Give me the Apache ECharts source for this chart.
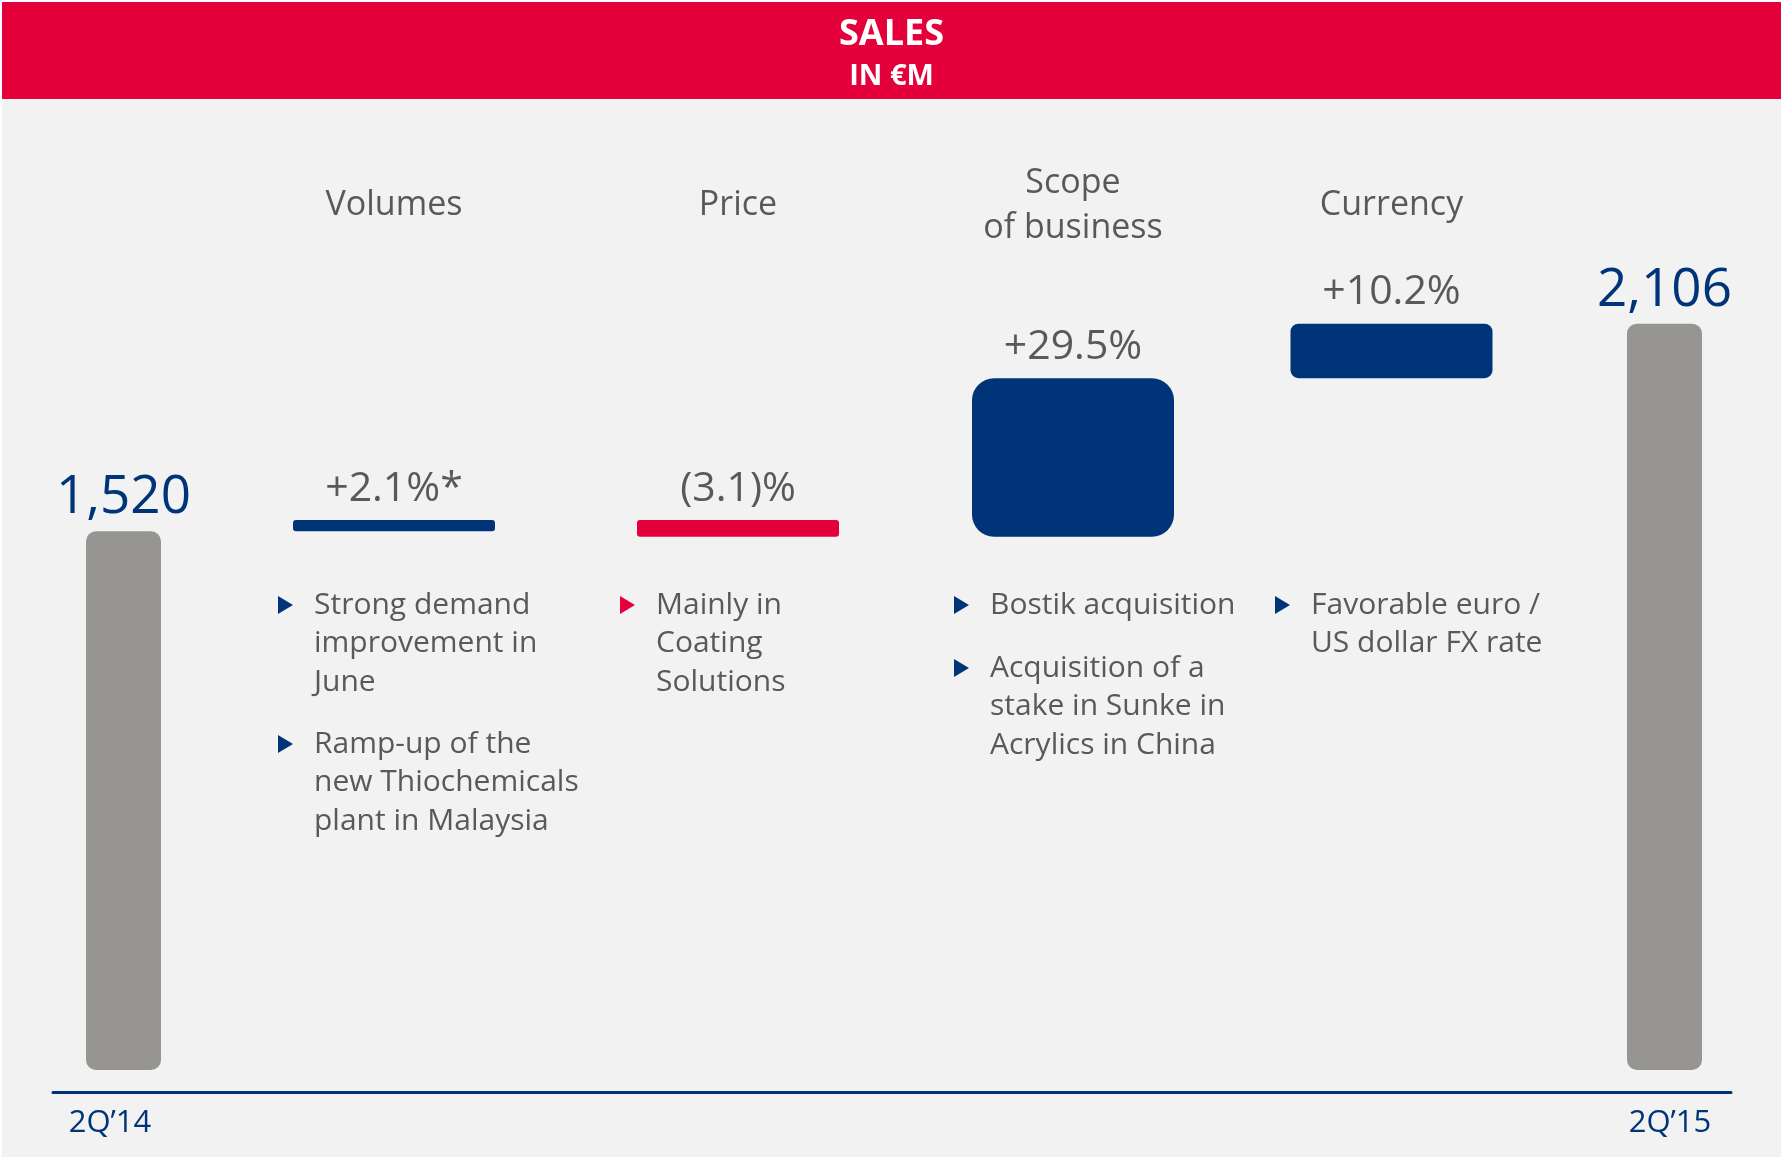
<!DOCTYPE html>
<html>
<head>
<meta charset="utf-8">
<script src="https://cdn.jsdelivr.net/npm/echarts@6/dist/echarts.min.js"></script>
<style>
  html, body { margin: 0; padding: 0; background: #ffffff; }
  #chart { width: 1783px; height: 1159px; }
</style>
</head>
<body>
<div id="chart"></div>
<script>
// values (EUR m)
const steps = ['2Q’14', 'Volumes', 'Price', 'Scope\nof business', 'Currency', '2Q’15']
const startSales = 1520
const endSales = 2106
const deltas = [32, -47, 447, 154]
const deltaLabels = ['+2.1%*', '(3.1)%', '+29.5%', '+10.2%']
const totalLabels = ['1,520', '2,106']
const periodLabels = ['2Q’14', '2Q’15']

// layout (page pixels on the x axis)
const slotCenter = [123.5, 394, 738, 1073, 1391.5, 1664.5]
const periodLabelAt = [110, 1670]
const barWidth = [75, 202, 202, 202, 202, 75]
const barRadius = [10, 3, 3, 22, 8, 10]

const BLUE = '#003478'
const RED = '#E4003A'
const GREY_BAR = '#969591'
const GREY_TEXT = '#595959'
const FONT = '"Open Sans", "Noto Sans", sans-serif'

// waterfall rows: [x, low, high, colour kind]
let rows = []
rows.push([slotCenter[0], 0, startSales, 0])
let level = startSales
deltas.forEach((d, i) => {
  let next = level + d
  rows.push([slotCenter[i + 1], Math.min(level, next), Math.max(level, next), d < 0 ? 2 : 1])
  level = next
})
rows.push([slotCenter[5], 0, endSales, 0])

const barLabels = [totalLabels[0]].concat(deltaLabels, [totalLabels[1]])

let chart = echarts.init(document.getElementById('chart'))

function renderStep (params, api) {
  let i = params.dataIndex
  let x = api.value(0)
  let top = api.coord([x, api.value(2)])
  let bottom = api.coord([x, api.value(1)])
  let kind = api.value(3)
  let w = barWidth[i]
  let h = bottom[1] - top[1]
  let fill = kind === 0 ? GREY_BAR : (kind === 2 ? RED : BLUE)
  let isTotal = kind === 0
  return {
    type: 'group',
    children: [{
      type: 'rect',
      shape: {x: top[0] - w / 2, y: top[1], width: w, height: h, r: Math.min(barRadius[i], h / 2)},
      style: {fill: fill}
    }, {
      type: 'text',
      style: {
        text: barLabels[i],
        x: top[0],
        y: top[1] - (isTotal ? 33 : 31),
        align: 'center',
        verticalAlign: 'middle',
        fill: isTotal ? BLUE : GREY_TEXT,
        font: (isTotal ? '53px ' : '41px ') + FONT
      }
    }]
  }
}

function triangle (cx, cy, color) {
  return {
    type: 'polygon',
    shape: {points: [[cx - 7, cy - 9], [cx + 8, cy], [cx - 7, cy + 9]]},
    style: {fill: color}
  }
}

function bulletText (x, y, lines) {
  return {
    type: 'text',
    x: x,
    y: y - 17,
    style: {
      text: lines.join('\n'),
      fill: GREY_TEXT,
      font: '30px ' + FONT,
      lineHeight: 38.5,
      verticalAlign: 'top'
    }
  }
}

let bullets = [
  {x: 314, y: 603, color: BLUE, lines: ['Strong demand', 'improvement in', 'June']},
  {x: 314, y: 742, color: BLUE, lines: ['Ramp-up of the', 'new Thiochemicals', 'plant in Malaysia']},
  {x: 656, y: 603, color: RED, lines: ['Mainly in', 'Coating', 'Solutions']},
  {x: 990, y: 603, color: BLUE, lines: ['Bostik acquisition']},
  {x: 990, y: 666, color: BLUE, lines: ['Acquisition of a', 'stake in Sunke in', 'Acrylics in China']},
  {x: 1311, y: 603, color: BLUE, lines: ['Favorable euro /', 'US dollar FX rate']}
]

let graphics = [
  {type: 'rect', z: -10, shape: {x: 2, y: 2, width: 1779, height: 1155}, style: {fill: '#F2F2F2'}},
  {type: 'rect', z: -9, shape: {x: 2, y: 2, width: 1779, height: 97}, style: {fill: RED}},
  {type: 'text', style: {text: 'SALES', x: 891.5, y: 35, align: 'center', verticalAlign: 'middle', fill: '#fff', font: 'bold 36px ' + FONT}},
  {type: 'text', style: {text: 'IN €M', x: 891.5, y: 77, align: 'center', verticalAlign: 'middle', fill: '#fff', font: 'bold 29px ' + FONT}}
]

// step headings
for (let i = 1; i < steps.length - 1; i++) {
  let lines = steps[i].split('\n')
  graphics.push({
    type: 'text',
    style: {
      text: steps[i],
      x: slotCenter[i],
      y: lines.length > 1 ? 206 : 205.5,
      align: 'center',
      verticalAlign: 'middle',
      fill: GREY_TEXT,
      font: '34px ' + FONT,
      lineHeight: 45
    }
  })
}

bullets.forEach(b => {
  graphics.push(triangle(b.x - 29, b.y + 2, b.color))
  graphics.push(bulletText(b.x, b.y, b.lines))
})

let option = {
  backgroundColor: 'transparent',
  animation: false,
  grid: {left: 53, right: 52, top: 184, bottom: 89},
  xAxis: {
    type: 'value',
    min: 53,
    max: 1731,
    offset: 22,
    splitLine: {show: false},
    axisTick: {show: false},
    axisLine: {show: true, onZero: false, lineStyle: {color: BLUE, width: 3}},
    axisLabel: {
      customValues: periodLabelAt,
      margin: 16,
      color: BLUE,
      fontSize: 31,
      fontFamily: FONT,
      formatter: function (v) {
        return periodLabels[periodLabelAt.indexOf(v)] || ''
      }
    }
  },
  yAxis: {
    type: 'value',
    min: 0,
    max: 2500,
    show: false
  },
  graphic: graphics,
  series: [{
    type: 'custom',
    renderItem: renderStep,
    data: rows,
    encode: {x: 0, y: [1, 2]},
    clip: false
  }]
}

chart.setOption(option)
</script>
</body>
</html>
